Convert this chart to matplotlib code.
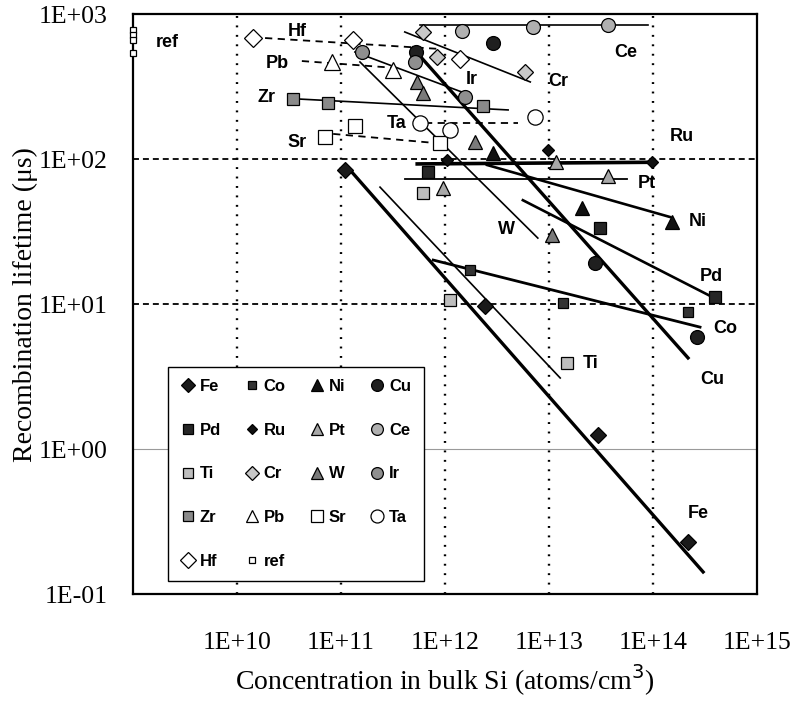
import matplotlib
matplotlib.use("Agg")
import matplotlib.pyplot as plt

# values: x = concentration (atoms/cm3), y = lifetime (us)
fe_x = [1.09e11, 2.4e12, 2.96e13, 2.17e14]
fe_y = [84, 9.7, 1.25, 0.23]
co_x = [1.74e12, 1.36e13, 2.17e14]
co_y = [17.1, 10.2, 8.8]
ni_x = [2.9e12, 2.07e13, 1.52e14]
ni_y = [110, 46, 36.8]
cu_x = [5.26e11, 2.9e12, 2.77e13, 2.65e14]
cu_y = [547, 631, 19.2, 5.9]
pd_x = [6.9e11, 3.09e13, 3.95e14]
pd_y = [81, 33.4, 11.2]
ru_x = [1.05e12, 9.8e12, 9.8e13]
ru_y = [98, 115, 95]
pt_x = [9.6e11, 1.17e13, 3.7e13]
pt_y = [63, 95, 76]
ce_x = [1.46e12, 7.0e12, 3.7e13]
ce_y = [764, 813, 840]
ti_x = [6.1e11, 1.12e12, 1.49e13]
ti_y = [58, 10.7, 3.9]
cr_x = [6.1e11, 8.4e11, 5.9e12]
cr_y = [752, 505, 398]
w_x = [5.4e11, 6.1e11, 1.94e12, 1.07e13]
w_y = [340, 285, 131, 30]
ir_x = [1.59e11, 5.15e11, 1.56e12]
ir_y = [547, 467, 268]
zr_x = [3.45e10, 7.5e10, 2.32e12]
zr_y = [259, 243, 232]
pb_x = [8.2e10, 3.16e11]
pb_y = [467, 411]
sr_x = [7.0e10, 1.36e11, 8.95e11]
sr_y = [142, 169, 129]
ta_x = [5.75e11, 1.12e12, 7.3e12]
ta_y = [177, 158, 195]
hf_x = [1.43e10, 1.30e11, 1.39e12]
hf_y = [683, 662, 489]
ref_x = [1e9, 1e9, 1e9, 1e9]
ref_y = [776, 716, 662, 538]

# fitted trend lines (end points)
fits = {
    "Fe": ([1.22e11, 3.03e14], [84, 0.142]),
    "Cu": ([4.9e11, 2.17e14], [583, 4.25]),
    "Co": ([7.7e11, 2.83e14], [20.1, 6.93]),
    "Pd": ([5.6e12, 3.69e14], [52, 11.2]),
    "Ni": ([2.53e12, 1.46e14], [91, 39.8]),
    "Ru": ([5.4e11, 1.04e14], [92.5, 95]),
    "Pt": ([4.1e11, 5.6e13], [72.8, 72.8]),
    "Ti": ([2.37e11, 1.28e13], [64, 3.09]),
    "W": ([1.52e11, 7.8e12], [467, 28.5]),
    "Ce": ([5.8e11, 9.0e13], [840, 840]),
    "Cr": ([4.1e11, 6.6e12], [752, 340]),
    "Ir": ([1.36e11, 1.74e12], [547, 276]),
    "Zr": ([4.04e10, 4.04e12], [259, 218]),
    "Pb": ([4.2e10, 3.3e11], [474, 425]),
    "Sr": ([8.4e10, 8.0e11], [149, 129]),
    "Ta": ([6.4e11, 5.0e12], [177, 177]),
    "Hf": ([1.86e10, 8.96e11], [683, 574]),
}

series = {
    "Fe": (fe_x, fe_y), "Co": (co_x, co_y), "Ni": (ni_x, ni_y), "Cu": (cu_x, cu_y),
    "Pd": (pd_x, pd_y), "Ru": (ru_x, ru_y), "Pt": (pt_x, pt_y), "Ce": (ce_x, ce_y),
    "Ti": (ti_x, ti_y), "Cr": (cr_x, cr_y), "W": (w_x, w_y), "Ir": (ir_x, ir_y),
    "Zr": (zr_x, zr_y), "Pb": (pb_x, pb_y), "Sr": (sr_x, sr_y), "Ta": (ta_x, ta_y),
    "Hf": (hf_x, hf_y), "ref": (ref_x, ref_y),
}

# marker, face colour, size
marks = {
    "Fe": ("D", "#1a1a1a", 8), "Co": ("s", "#333333", 7), "Ni": ("^", "#111111", 10),
    "Cu": ("o", "#1f1f1f", 10), "Pd": ("s", "#262626", 9), "Ru": ("D", "#111111", 6),
    "Pt": ("^", "#a8a8a8", 10), "Ce": ("o", "#b0b0b0", 10), "Ti": ("s", "#bdbdbd", 9),
    "Cr": ("D", "#c8c8c8", 8), "W": ("^", "#7a7a7a", 10), "Ir": ("o", "#8f8f8f", 10),
    "Zr": ("s", "#8a8a8a", 9), "Pb": ("^", "white", 11), "Sr": ("s", "white", 10),
    "Ta": ("o", "white", 11), "Hf": ("D", "white", 9), "ref": ("s", "white", 4.5),
}

# line width, dash style
line_style = {
    "Fe": (2.4, "-"), "Cu": (2.4, "-"), "Co": (2.0, "-"), "Pd": (1.9, "-"),
    "Ni": (1.9, "-"), "Ru": (2.6, "-"), "Pt": (1.3, "-"), "Ti": (1.2, "-"),
    "W": (1.2, "-"), "Ce": (1.2, "-"), "Cr": (1.2, "-"), "Ir": (1.2, "-"),
    "Zr": (1.2, "-"), "Pb": (1.3, (0, (4, 3))), "Sr": (1.3, (0, (4, 3))),
    "Ta": (1.3, (0, (4, 3))), "Hf": (1.3, (0, (4, 3))),
}

# where the element names sit next to their lines
name_pos = {
    "ref": (2.12e9, 641), "Hf": (3.78e10, 752), "Pb": (2.43e10, 459), "Zr": (1.94e10, 264),
    "Sr": (3.78e10, 131), "Ta": (3.45e11, 177), "Ir": (1.82e12, 351), "Cr": (1.22e13, 340),
    "Ce": (5.5e13, 547), "Ru": (1.9e14, 142), "Pt": (8.75e13, 68), "Ni": (2.71e14, 36.8),
    "W": (3.94e12, 32.4), "Pd": (3.6e14, 15.4), "Co": (4.9e14, 6.8), "Cu": (3.7e14, 3.0),
    "Ti": (2.5e13, 3.9), "Fe": (2.7e14, 0.36),
}

fig = plt.figure(figsize=(7.99, 7.01), dpi=100)
ax = fig.add_axes([0.1665, 0.1526, 0.781, 0.8274])
ax.set_xscale("log")
ax.set_yscale("log")
ax.set_xlim(1e9, 1e15)
ax.set_ylim(0.1, 1000)

# grid like the original print
for gx in [1e10, 1e11, 1e12, 1e13, 1e14]:
    ax.axvline(gx, color="black", lw=1.7, ls=(0, (0.8, 3.2)), zorder=1)
for gy in [1e2, 1e1]:
    ax.axhline(gy, color="black", lw=1.3, ls=(0, (3.3, 2.2)), zorder=1)
ax.axhline(1, color="#9a9a9a", lw=0.8, zorder=1)

for name, (lx, ly) in fits.items():
    lw, ls = line_style[name]
    ax.plot(lx, ly, color="black", lw=lw, ls=ls, zorder=2)

handles = {}
for name, (sx, sy) in series.items():
    m, fc, ms = marks[name]
    h, = ax.plot(sx, sy, ls="none", marker=m, markerfacecolor=fc,
                 markeredgecolor="black", markeredgewidth=0.9, markersize=ms,
                 zorder=3, clip_on=False)
    handles[name] = h

for name, (tx, ty) in name_pos.items():
    ax.text(tx, ty, name, ha="center", va="center", fontsize=13,
            fontweight="bold", family="Liberation Sans", zorder=4)

order = ["Fe", "Pd", "Ti", "Zr", "Hf", "Co", "Ru", "Cr", "Pb", "ref",
         "Ni", "Pt", "W", "Sr", "Cu", "Ce", "Ir", "Ta"]
leg = ax.legend([handles[n] for n in order], order, ncol=4, loc="lower left",
                bbox_to_anchor=(0.056, 0.022), frameon=True, fancybox=False,
                framealpha=1, edgecolor="black", borderpad=0.75,
                labelspacing=1.72, handlelength=0.9, handletextpad=0.25,
                columnspacing=1.42, borderaxespad=0, markerscale=0.85,
                prop={"family": "Liberation Sans", "weight": "bold", "size": 12})
leg.get_frame().set_linewidth(1.0)
leg.set_zorder(5)

ax.set_xticks([1e10, 1e11, 1e12, 1e13, 1e14, 1e15])
ax.set_xticklabels(["1E+10", "1E+11", "1E+12", "1E+13", "1E+14", "1E+15"])
ax.set_yticks([0.1, 1, 10, 100, 1000])
ax.set_yticklabels(["1E-01", "1E+00", "1E+01", "1E+02", "1E+03"])
ax.minorticks_off()
ax.tick_params(axis="x", length=0, pad=27, labelsize=18.5)
ax.tick_params(axis="y", length=0, pad=18, labelsize=18.5)
for lab in ax.get_xticklabels() + ax.get_yticklabels():
    lab.set_family("Liberation Serif")

for sp in ax.spines.values():
    sp.set_linewidth(1.6)

fig.text(0.557, 0.03, "Concentration in bulk Si (atoms/cm$^3$)", ha="center",
         va="center", fontsize=20, family="Liberation Serif")
fig.text(0.032, 0.566, "Recombination lifetime (\u03bcs)", ha="center",
         va="center", rotation=90, fontsize=20, family="Liberation Serif")

fig.savefig("out.png", dpi=100)
